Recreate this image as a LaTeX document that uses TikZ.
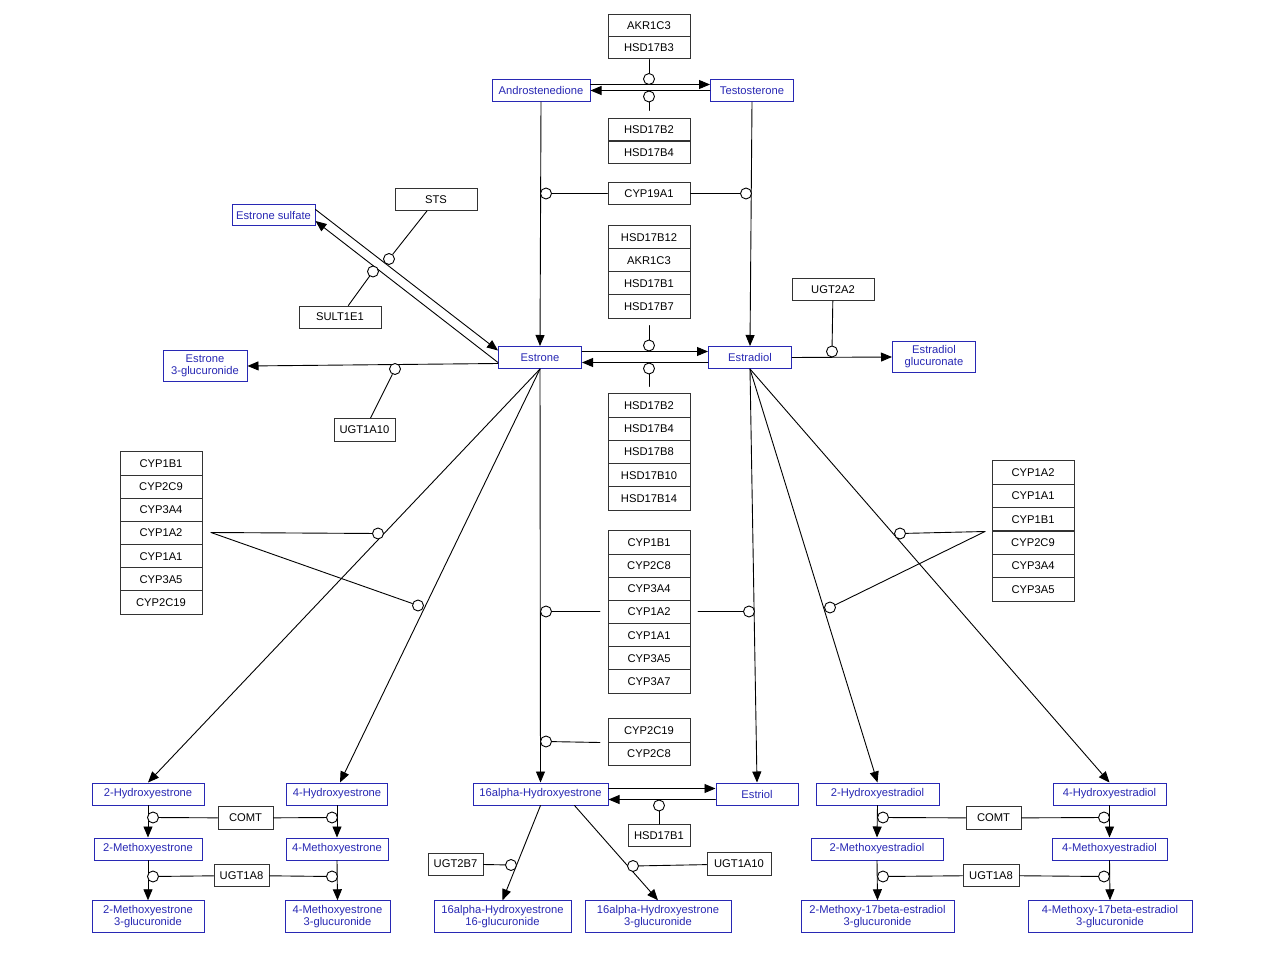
\documentclass[tikz,border=0pt]{standalone}
\usepackage{fontspec}
\setmainfont{Liberation Sans}
\usepackage{tikz}
\usetikzlibrary{arrows.meta}

\begin{document}
\begin{tikzpicture}
		[x=1pt,y=-1pt,line cap=round,
		%Styles
		metabolite/.style={draw=metblue,text=metblue,line width=1pt,fill=white,minimum height=22pt,inner xsep=2pt,inner ysep=4.5pt,align=center,font=\fontsize{11.2}{12}\selectfont},
		gene/.style={draw=black!80,line width=1pt,fill=white,minimum width=82pt,minimum height=23.2pt,inner sep=1pt,font=\fontsize{11.2}{12}\selectfont},
		mod/.style={circle,draw,fill=white,line width=0.9pt,minimum size=11pt,inner sep=0pt},
		conversion/.style={line width=0.9pt,-{Triangle[length=11pt,width=9pt]}},
		catalysis/.style={line width=0.9pt}
		]
		
		%Colors
		\definecolor{metblue}{RGB}{40,40,180}
		
		\useasboundingbox (0,0) rectangle (1280,960);
		
		%Metabolites
		\node[metabolite,minimum width=98pt] (andro) at (541,90.5) {Androstenedione};
		\node[metabolite,minimum width=83pt] (testo) at (752,90.5) {Testosterone};
		\node[metabolite,minimum width=83pt,minimum height=21pt] (esulf) at (273.5,215) {Estrone sulfate};
		\node[metabolite,minimum width=83pt] (estrone) at (540,357.5) {Estrone};
		\node[metabolite,minimum width=83pt] (estradiol) at (750,357.5) {Estradiol};
		\node[metabolite,minimum width=83pt] (e2gluc) at (934,357) {Estradiol\\glucuronate};
		\node[metabolite,minimum width=84pt] (e1gluc) at (205,366) {Estrone\\3-glucuronide};
		\node[metabolite,minimum width=112pt] (oh2e1) at (148,794) {2-Hydroxyestrone};
		\node[metabolite,minimum width=101pt] (oh4e1) at (337,794) {4-Hydroxyestrone};
		\node[metabolite,minimum width=108pt] (meo2e1) at (148,849) {2-Methoxyestrone};
		\node[metabolite,minimum width=102pt] (meo4e1) at (337,849) {4-Methoxyestrone};
		\node[metabolite,minimum width=112pt] (meo2e1g) at (148,916.5) {2-Methoxyestrone\\3-glucuronide};
		\node[metabolite,minimum width=105pt] (meo4e1g) at (337.5,916.5) {4-Methoxyestrone\\3-glucuronide};
		\node[metabolite,minimum width=135pt] (oh16e1) at (540.5,794) {16alpha-Hydroxyestrone};
		\node[metabolite,minimum width=82pt] (estriol) at (757,794) {Estriol};
		\node[metabolite,minimum width=137pt] (oh16g16) at (502.5,916.5) {16alpha-Hydroxyestrone\\16-glucuronide};
		\node[metabolite,minimum width=146pt] (oh16g3) at (658,916.5) {16alpha-Hydroxyestrone\\3-glucuronide};
		\node[metabolite,minimum width=123pt] (oh2e2) at (877.5,794) {2-Hydroxyestradiol};
		\node[metabolite,minimum width=113pt] (oh4e2) at (1109.5,794) {4-Hydroxyestradiol};
		\node[metabolite,minimum width=132pt] (meo2e2) at (877,849) {2-Methoxyestradiol};
		\node[metabolite,minimum width=115pt] (meo4e2) at (1109.5,849) {4-Methoxyestradiol};
		\node[metabolite,minimum width=153pt] (meo2e2g) at (877.5,916.5) {2-Methoxy-17beta-estradiol\\3-glucuronide};
		\node[metabolite,minimum width=164pt] (meo4e2g) at (1110,916.5) {4-Methoxy-17beta-estradiol\\3-glucuronide};
		
		%Gene products
		\node[gene,minimum height=22pt] (akr1c3a) at (649,25.5) {AKR1C3};
		\node[gene,minimum height=22pt] (hsd17b3) at (649,48) {HSD17B3};
		\node[gene,minimum height=22pt] (hsd17b2a) at (649,129.5) {HSD17B2};
		\node[gene,minimum height=22pt] (hsd17b4a) at (649,153) {HSD17B4};
		\node[gene,minimum height=22pt] (cyp19a1) at (649,193.5) {CYP19A1};
		\node[gene,minimum height=22pt] (sts) at (436,199.5) {STS};
		\node[gene,minimum height=22pt] (sult1e1) at (340,317) {SULT1E1};
		\node[gene,minimum width=61pt] (ugt1a10a) at (364.5,430) {UGT1A10};
		\node[gene] (hsd17b12) at (649,237.5) {HSD17B12};
		\node[gene] (akr1c3b) at (649,260.5) {AKR1C3};
		\node[gene] (hsd17b1a) at (649,283.5) {HSD17B1};
		\node[gene] (hsd17b7) at (649,306.5) {HSD17B7};
		\node[gene,minimum height=22pt] (ugt2a2) at (833,289.5) {UGT2A2};
		\node[gene] (hsd17b2b) at (649,405.5) {HSD17B2};
		\node[gene] (hsd17b4b) at (649,428.75) {HSD17B4};
		\node[gene] (hsd17b8) at (649,452) {HSD17B8};
		\node[gene] (hsd17b10) at (649,475.25) {HSD17B10};
		\node[gene] (hsd17b14) at (649,498.5) {HSD17B14};
		
		\node[gene] (cyp1b1a) at (161,463.5) {CYP1B1};
		\node[gene] (cyp2c9a) at (161,486.7) {CYP2C9};
		\node[gene] (cyp3a4a) at (161,509.8) {CYP3A4};
		\node[gene] (cyp1a2a) at (161,533) {CYP1A2};
		\node[gene] (cyp1a1a) at (161,556.2) {CYP1A1};
		\node[gene] (cyp3a5a) at (161,579.3) {CYP3A5};
		\node[gene] (cyp2c19a) at (161,602.5) {CYP2C19};
		
		\node[gene] (cyp1b1b) at (649,542.5) {CYP1B1};
		\node[gene] (cyp2c8b) at (649,565.7) {CYP2C8};
		\node[gene] (cyp3a4b) at (649,588.8) {CYP3A4};
		\node[gene] (cyp1a2b) at (649,612) {CYP1A2};
		\node[gene] (cyp1a1b) at (649,635.2) {CYP1A1};
		\node[gene] (cyp3a5b) at (649,658.3) {CYP3A5};
		\node[gene] (cyp3a7b) at (649,681.5) {CYP3A7};
		\node[gene] (cyp2c19b) at (649,730.5) {CYP2C19};
		\node[gene] (cyp2c8c) at (649,753.7) {CYP2C8};
		
		\node[gene] (cyp1a2c) at (1033,472.5) {CYP1A2};
		\node[gene] (cyp1a1c) at (1033,495.9) {CYP1A1};
		\node[gene] (cyp1b1c) at (1033,519.3) {CYP1B1};
		\node[gene] (cyp2c9c) at (1033,542.7) {CYP2C9};
		\node[gene] (cyp3a4c) at (1033,566.1) {CYP3A4};
		\node[gene] (cyp3a5c) at (1033,589.5) {CYP3A5};
		
		\node[gene,minimum width=55pt] (comta) at (245.5,818) {COMT};
		\node[gene,minimum width=55pt,minimum height=22pt] (ugt1a8a) at (241.5,875.5) {UGT1A8};
		\node[gene,minimum width=62pt,minimum height=22pt] (hsd17b1b) at (659,835.5) {HSD17B1};
		\node[gene,minimum width=55pt,minimum height=22pt] (ugt2b7) at (455.5,864) {UGT2B7};
		\node[gene,minimum width=64pt] (ugt1a10b) at (739,864) {UGT1A10};
		\node[gene,minimum width=55pt] (comtb) at (993.5,818) {COMT};
		\node[gene,minimum width=56pt,minimum height=22pt] (ugt1a8b) at (991,875.5) {UGT1A8};
		
		%Free ends of the group anchors
		\coordinate (hsdBtop) at (649,110.5);
		\coordinate (hsdCtop) at (649,325.5);
		\coordinate (hsdDtop) at (649,386.5);
		\coordinate (cypLeft) at (211,532.5);
		\coordinate (cypMidL) at (600,611.5);
		\coordinate (cypMidR) at (698,611.5);
		\coordinate (cypLow) at (600,742.5);
		\coordinate (cypRight) at (985,531.5);
		
		%Conversions
		\path[conversion]
			([yshift=6pt]andro.east) edge ([yshift=6pt]testo.west)
			(testo.west) edge (andro.east)
			(andro.south) edge (estrone.north)
			(testo.south) edge (estradiol.north)
			([yshift=5.5pt]esulf.east) edge ([yshift=7pt]estrone.west)
			([yshift=-5pt]estrone.west) edge ([yshift=-6pt]esulf.east)
			([yshift=-6pt]estrone.west) edge (e1gluc.east)
			([yshift=6pt]estrone.east) edge ([yshift=6pt]estradiol.west)
			([yshift=-5pt]estradiol.west) edge ([yshift=-5pt]estrone.east)
			(estradiol.east) edge (e2gluc.west)
			(estrone.south) edge (oh2e1.north)
			(estrone.south) edge ([xshift=3pt]oh4e1.north)
			(estrone.south) edge (oh16e1.north)
			(estradiol.south) edge (estriol.north)
			(estradiol.south) edge (oh2e2.north)
			(estradiol.south) edge (oh4e2.north)
			([yshift=5.5pt]oh16e1.east) edge ([yshift=5.5pt]estriol.west)
			([yshift=-5.5pt]estriol.west) edge ([yshift=-5.5pt]oh16e1.east)
			(oh16e1.south) edge (oh16g16.north)
			([xshift=34pt]oh16e1.south) edge (oh16g3.north)
			(oh2e1.south) edge (meo2e1.north)
			(oh4e1.south) edge (meo4e1.north)
			(meo2e1.south) edge (meo2e1g.north)
			(meo4e1.south) edge (meo4e1g.north)
			(oh2e2.south) edge (meo2e2.north)
			(oh4e2.south) edge (meo4e2.north)
			(meo2e2.south) edge (meo2e2g.north)
			(meo4e2.south) edge (meo4e2g.north);
		
		%Catalysis ends
		\node[mod] (m1) at (649,79) {};
		\node[mod] (m2) at (649,96.5) {};
		\node[mod] (m3) at (546,193.5) {};
		\node[mod] (m4) at (746,193.5) {};
		\node[mod] (m5) at (389,259) {};
		\node[mod] (m6) at (373,271.5) {};
		\node[mod] (m7) at (395,369) {};
		\node[mod] (m8) at (649,345.5) {};
		\node[mod] (m9) at (649,368.5) {};
		\node[mod] (m10) at (832,351.5) {};
		\node[mod] (m11) at (378,533.5) {};
		\node[mod] (m12) at (418,605.5) {};
		\node[mod] (m13) at (546,611.5) {};
		\node[mod] (m14) at (749,611.5) {};
		\node[mod] (m15) at (546,741.5) {};
		\node[mod] (m16) at (900,533.5) {};
		\node[mod] (m17) at (830,607.5) {};
		\node[mod] (m18) at (659,805.5) {};
		\node[mod] (m19) at (511,865) {};
		\node[mod] (m20) at (633,866) {};
		\node[mod] (m21) at (153,817.5) {};
		\node[mod] (m22) at (332,817.5) {};
		\node[mod] (m23) at (153,876.5) {};
		\node[mod] (m24) at (332,876.5) {};
		\node[mod] (m25) at (883,817.5) {};
		\node[mod] (m26) at (1104,817.5) {};
		\node[mod] (m27) at (883,876.5) {};
		\node[mod] (m28) at (1104,876.5) {};
		
		\path[catalysis]
			(hsd17b3) edge (m1)
			(hsdBtop) edge (m2)
			(cyp19a1) edge (m3)
				edge (m4)
			(sts) edge (m5)
			(sult1e1) edge (m6)
			(ugt1a10a) edge (m7)
			(hsdCtop) edge (m8)
			(hsdDtop) edge (m9)
			(ugt2a2) edge (m10)
			(cypLeft) edge (m11)
				edge (m12)
			(cypMidL) edge (m13)
			(cypMidR) edge (m14)
			(cypLow) edge (m15)
			(cypRight) edge (m16)
				edge (m17)
			(hsd17b1b) edge (m18)
			(ugt2b7) edge (m19)
			(ugt1a10b) edge (m20)
			(comta) edge (m21)
				edge (m22)
			(ugt1a8a) edge (m23)
				edge (m24)
			(comtb) edge (m25)
				edge (m26)
			(ugt1a8b) edge (m27)
				edge (m28);
	\end{tikzpicture}
\end{document}
